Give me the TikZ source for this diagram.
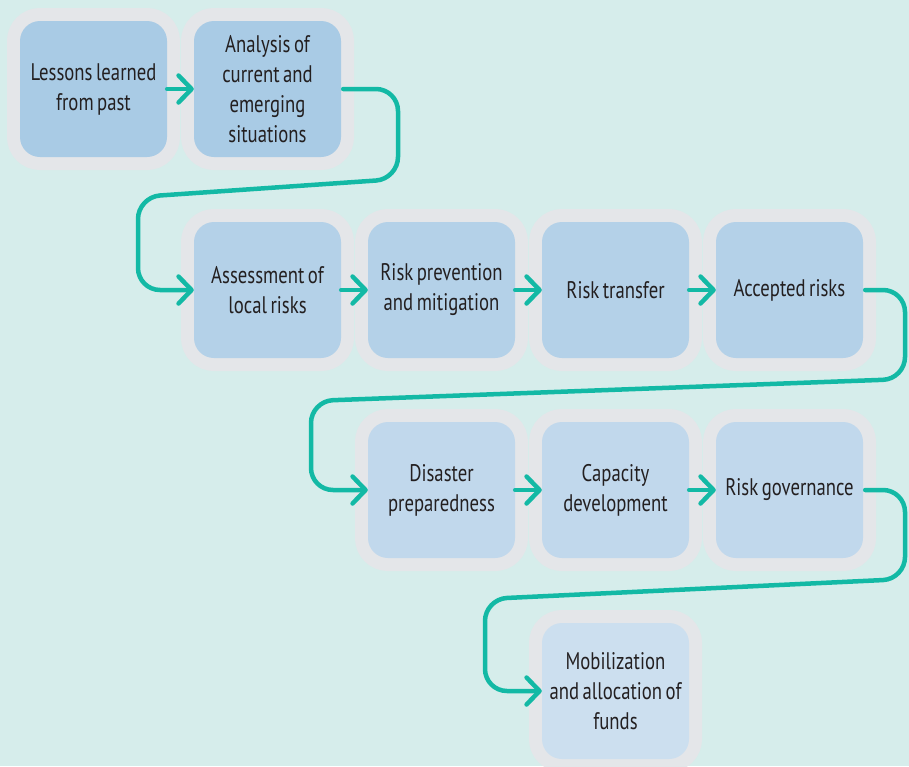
\documentclass[tikz,border=0pt]{standalone}
\usepackage{fontspec}
\setmainfont[FakeStretch=0.78, WordSpace=0.7]{PT Sans}
\usetikzlibrary{arrows.meta}

\definecolor{bgteal}{HTML}{D6EDEB}
\definecolor{halo}{HTML}{E4E6E9}
\definecolor{flow}{HTML}{13B9A5}
\definecolor{ink}{HTML}{231F20}
\definecolor{rowA}{HTML}{A9CBE5}
\definecolor{rowB}{HTML}{B4D1E8}
\definecolor{rowC}{HTML}{C1D8EC}
\definecolor{rowD}{HTML}{CCDFEF}

\tikzset{
  stage/.style={
    preaction={draw=halo, line width=26pt, rounded corners=20pt},
    rounded corners=20pt, minimum width=147pt, minimum height=136pt,
    inner sep=0pt, align=center, text=ink,
    font=\fontsize{24}{30}\selectfont},
  link/.style={draw=flow, line width=4.5pt, line cap=round, line join=round,
    -{Straight Barb[length=13pt, width=27pt, round]}},
  loop/.style={link, rounded corners=22pt}
}

\begin{document}
\begin{tikzpicture}[x=1pt, y=-1pt]
  \fill[bgteal] (0,0) rectangle (909,766);
  \useasboundingbox (0,0) rectangle (909,766);
  \clip (0,0) rectangle (909,766);

  % row 1
  \node[stage, fill=rowA] (b1) at (93.5,89) {Lessons learned\\from past};
  \node[stage, fill=rowA] (b2) at (267.5,89) {Analysis of\\current and\\emerging\\situations};
  % row 2
  \node[stage, fill=rowB] (b3) at (267.5,290) {Assessment of\\local risks};
  \node[stage, fill=rowB] (b4) at (441.5,290) {Risk prevention\\and mitigation};
  \node[stage, fill=rowB] (b5) at (615.5,290) {Risk transfer};
  \node[stage, fill=rowB] (b6) at (789.5,290) {Accepted risks};
  % row 3
  \node[stage, fill=rowC] (b7) at (441.5,490) {Disaster\\preparedness};
  \node[stage, fill=rowC] (b8) at (615.5,490) {Capacity\\development};
  \node[stage, fill=rowC] (b9) at (789.5,490) {Risk governance};
  % row 4
  \node[stage, fill=rowD] (b10) at (615.5,691) {Mobilization\\and allocation of\\funds};

  % straight steps within a row
  \draw[link] (b1.east) -- (b2.west);
  \draw[link] (b3.east) -- (b4.west);
  \draw[link] (b4.east) -- (b5.west);
  \draw[link] (b5.east) -- (b6.west);
  \draw[link] (b7.east) -- (b8.west);
  \draw[link] (b8.east) -- (b9.west);

  % returns to the start of the next row
  \draw[loop] ([xshift=2pt]b2.east) -- (398,89) -- (398,179) -- (138,197)
    -- (138,290) -- (b3.west);
  \draw[loop] ([xshift=2pt]b6.east) -- (905,290) -- (905,379) -- (311,401)
    -- (311,490) -- (b7.west);
  \draw[loop] ([xshift=2pt]b9.east) -- (905,490) -- (905,579) -- (485,599)
    -- (485,691) -- (b10.west);
\end{tikzpicture}
\end{document}
